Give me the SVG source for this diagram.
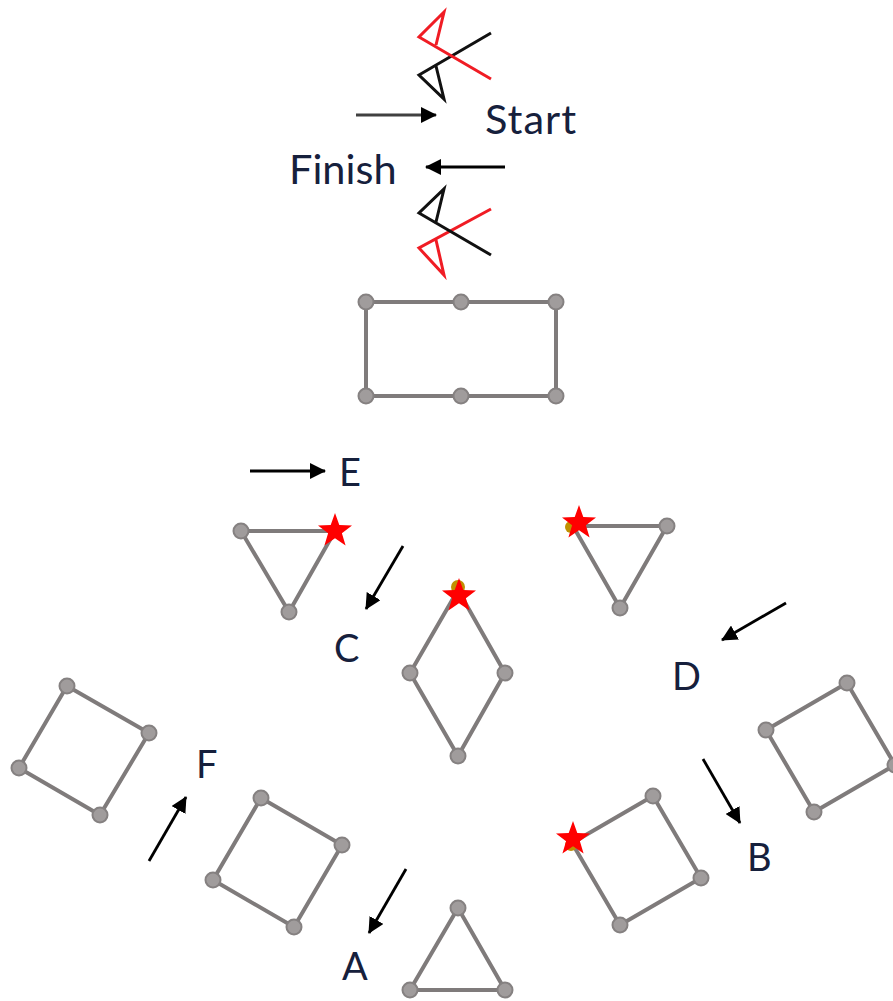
<svg xmlns="http://www.w3.org/2000/svg" width="893" height="1001" viewBox="0 0 893 1001">
<style>
.e{fill:none;stroke:#7f7b7b;stroke-width:4;stroke-linejoin:round}
.d{fill:#a09c9c;stroke:#858181;stroke-width:2}
.s{fill:#ff0000;stroke:none}
.o{fill:#c09000;stroke:none}
.a{stroke:#000;stroke-width:2.8;fill:none;marker-end:url(#h)}
.k{fill:none;stroke:#111;stroke-width:3;stroke-linejoin:miter}
.r{fill:none;stroke:#f01c24;stroke-width:3;stroke-linejoin:miter}
text{font-family:Lato,"Liberation Sans",sans-serif;font-size:38px;fill:#16203c}
.w{font-size:41.500px}
</style>
<defs>
<marker id="h" markerUnits="userSpaceOnUse" markerWidth="17" markerHeight="16" refX="15" refY="8" orient="auto"><path d="M0 0L16 8L0 16Z" fill="#000"/></marker>
<polygon id="star" class="s" points="0,-18 4.300,-5.900 17,-5.600 6.900,2.200 10.600,14.500 0,7.200 -10.600,14.500 -6.900,2.200 -17,-5.600 -4.300,-5.900"/>
<circle id="dot" class="d" r="7.500"/>
</defs>
<rect width="893" height="1001" fill="#fff"/>
<g id="connectors">
<path class="a" d="M356 115H436" stroke-opacity=".75"/>
<path class="a" d="M505 167H426"/>
<path class="a" d="M250 471H325"/>
<path class="a" d="M403 546L366 609"/>
<path class="a" d="M786 603L722 640"/>
<path class="a" d="M703 759L740 823"/>
<path class="a" d="M149 861L186 797"/>
<path class="a" d="M406 869L369 933"/>
</g>
<g id="start-scissors">
<path class="k" d="M491 33L419 75L444 99L436 66"/>
<path class="r" d="M491 79L419 37L444 12L436 45"/>
</g>
<g id="finish-scissors">
<path class="r" d="M491 209L419 248L444 275L436 240"/>
<path class="k" d="M491 255L419 213L444 189L436 222"/>
</g>
<g id="label-start"><text class="w" x="485" y="134" letter-spacing="1">Start</text></g>
<g id="label-finish"><text class="w" x="289" y="184">Finish</text></g>
<g id="label-e"><text x="339" y="486">E</text></g>
<g id="label-c"><text x="334" y="662">C</text></g>
<g id="label-d"><text x="672" y="690">D</text></g>
<g id="label-f"><text x="196" y="778">F</text></g>
<g id="label-b"><text x="747" y="871">B</text></g>
<g id="label-a"><text x="342" y="980">A</text></g>
<g id="rect-top">
<path class="e" d="M366 302H556V396H366Z"/>
<use href="#dot" x="366" y="302"/><use href="#dot" x="461" y="302"/><use href="#dot" x="556" y="302"/>
<use href="#dot" x="366" y="396"/><use href="#dot" x="461" y="396"/><use href="#dot" x="556" y="396"/>
</g>
<g id="triangle-e">
<path class="e" d="M241 531H335L289 612Z"/>
<use href="#dot" x="241" y="531"/><use href="#dot" x="289" y="612"/>
<use href="#star" x="335" y="531"/>
</g>
<g id="triangle-d">
<path class="e" d="M573 526H667L620 608Z"/>
<circle class="o" cx="571" cy="527" r="6"/>
<use href="#dot" x="667" y="526"/><use href="#dot" x="620" y="608"/>
<use href="#star" x="579" y="523"/>
</g>
<g id="diamond-c">
<path class="e" d="M458 590L505 673L458 756L410 673Z"/>
<circle class="o" cx="458" cy="587" r="7"/>
<use href="#dot" x="505" y="673"/><use href="#dot" x="458" y="756"/><use href="#dot" x="410" y="673"/>
<use href="#star" x="459" y="596"/>
</g>
<g id="square-f">
<path class="e" d="M67 686L149 733L100 815L19 768Z"/>
<use href="#dot" x="67" y="686"/><use href="#dot" x="149" y="733"/><use href="#dot" x="100" y="815"/><use href="#dot" x="19" y="768"/>
</g>
<g id="square-a">
<path class="e" d="M261 798L342 845L294 927L213 880Z"/>
<use href="#dot" x="261" y="798"/><use href="#dot" x="342" y="845"/><use href="#dot" x="294" y="927"/><use href="#dot" x="213" y="880"/>
</g>
<g id="square-d">
<path class="e" d="M766 730L847 683L895 765L814 812Z"/>
<use href="#dot" x="766" y="730"/><use href="#dot" x="847" y="683"/><use href="#dot" x="895" y="765"/><use href="#dot" x="814" y="812"/>
</g>
<g id="square-b">
<path class="e" d="M572 843L653 796L701 878L620 925Z"/>
<circle class="o" cx="571" cy="845" r="6"/>
<use href="#dot" x="653" y="796"/><use href="#dot" x="701" y="878"/><use href="#dot" x="620" y="925"/>
<use href="#star" x="573" y="839"/>
</g>
<g id="triangle-a">
<path class="e" d="M458 908L505 990H410Z"/>
<use href="#dot" x="458" y="908"/><use href="#dot" x="505" y="990"/><use href="#dot" x="410" y="990"/>
</g>
</svg>
